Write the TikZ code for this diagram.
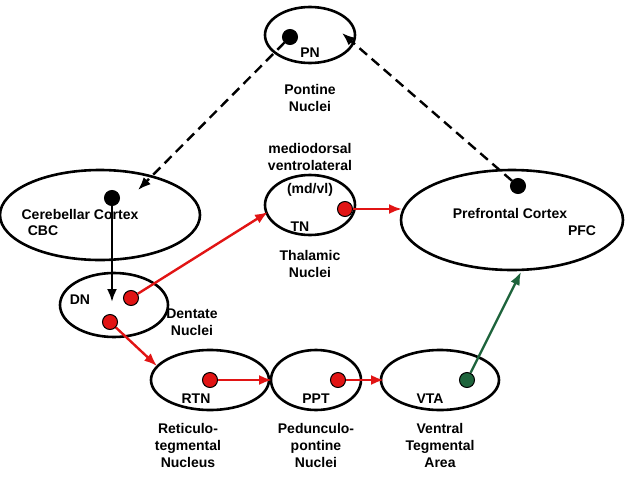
\documentclass[tikz,border=0pt]{standalone}
\usepackage{fontspec}
\setmainfont{Liberation Sans}
\usetikzlibrary{shapes.geometric,arrows.meta}
\definecolor{ared}{RGB}{225,20,20}
\definecolor{agreen}{RGB}{30,100,60}
\begin{document}
\begin{tikzpicture}[x=1pt,y=-1pt,
  ell/.style={draw,ellipse,line width=2.6pt,inner sep=0pt},
  dot/.style={circle,draw,line width=1pt,minimum size=15pt,inner sep=0pt},
  lab/.style={font=\bfseries\fontsize{14}{17}\selectfont,align=center},
  arr/.style={line width=2.4pt,-{Latex[length=13pt,width=10pt]}},
  dashedarr/.style={arr,dash pattern=on 10pt off 6pt}]
\useasboundingbox (0,0) rectangle (630,480);
\node[ell,minimum width=90pt,minimum height=56pt] (pn) at (310,35) {};
\node[ell,minimum width=200pt,minimum height=90pt] (cbc) at (100,215) {};
\node[ell,minimum width=90pt,minimum height=60pt] (tn) at (310,205) {};
\node[ell,minimum width=222pt,minimum height=100pt] (pfc) at (512,220) {};
\node[ell,minimum width=108pt,minimum height=64pt] (dn) at (114,305) {};
\node[ell,minimum width=118pt,minimum height=60pt] (rtn) at (210,380) {};
\node[ell,minimum width=90pt,minimum height=60pt] (ppt) at (316,380) {};
\node[ell,minimum width=118pt,minimum height=60pt] (vta) at (440,380) {};

\node[lab] (pnl) at (310,53) {PN};
\node[lab] (pnt) at (310,98) {Pontine\\Nuclei};
\node[lab] (cbct) at (80,214) {Cerebellar Cortex};
\node[lab] (cbcl) at (43,231) {CBC};
\node[lab] (tnt) at (310,157) {mediodorsal\\ventrolateral};
\node[lab] (tnm) at (310,190) {(md/vl)};
\node[lab] (tnl) at (300,227) {TN};
\node[lab] (tnb) at (310,264) {Thalamic\\Nuclei};
\node[lab] (pfct) at (510,213) {Prefrontal Cortex};
\node[lab] (pfcl) at (582,231) {PFC};
\node[lab] (dnl) at (80,300) {DN};
\node[lab] (dnt) at (192,322) {Dentate\\Nuclei};
\node[lab] (rtnl) at (196,399) {RTN};
\node[lab] (pptl) at (316,399) {PPT};
\node[lab] (vtal) at (430,399) {VTA};
\node[lab] (rtnt) at (188,445) {Reticulo-\\tegmental\\Nucleus};
\node[lab] (pptt) at (316,445) {Pedunculo-\\pontine\\Nuclei};
\node[lab] (vtat) at (440,445) {Ventral\\Tegmental\\Area};

\node[dot,fill=black] (d1) at (290,37) {};
\node[dot,fill=black] (d2) at (112,198) {};
\node[dot,fill=black] (d3) at (518,186) {};
\node[dot,fill=ared] (d4) at (345,209) {};
\node[dot,fill=ared] (d5) at (131,298) {};
\node[dot,fill=ared] (d6) at (110,322) {};
\node[dot,fill=ared] (d7) at (210,380) {};
\node[dot,fill=ared] (d8) at (338,380) {};
\node[dot,fill=agreen] (d9) at (467,380) {};

\coordinate (c1) at (138,190);
\coordinate (c2) at (342,33);
\coordinate (c3) at (112,302);
\coordinate (c4) at (268,212);
\coordinate (c5) at (402,209);
\coordinate (c6) at (157,366);
\coordinate (c7) at (272,380);
\coordinate (c8) at (384,380);
\coordinate (c9) at (521,272);

\draw[dashedarr] (d1) -- (c1);
\draw[dashedarr] (d3) -- (c2);
\draw[arr] (d2) -- (c3);
\draw[arr,ared] (d5) -- (c4);
\draw[arr,ared] (d4) -- (c5);
\draw[arr,ared] (d6) -- (c6);
\draw[arr,ared] (d7) -- (c7);
\draw[arr,ared] (d8) -- (c8);
\draw[arr,agreen] (d9) -- (c9);
\end{tikzpicture}
\end{document}
